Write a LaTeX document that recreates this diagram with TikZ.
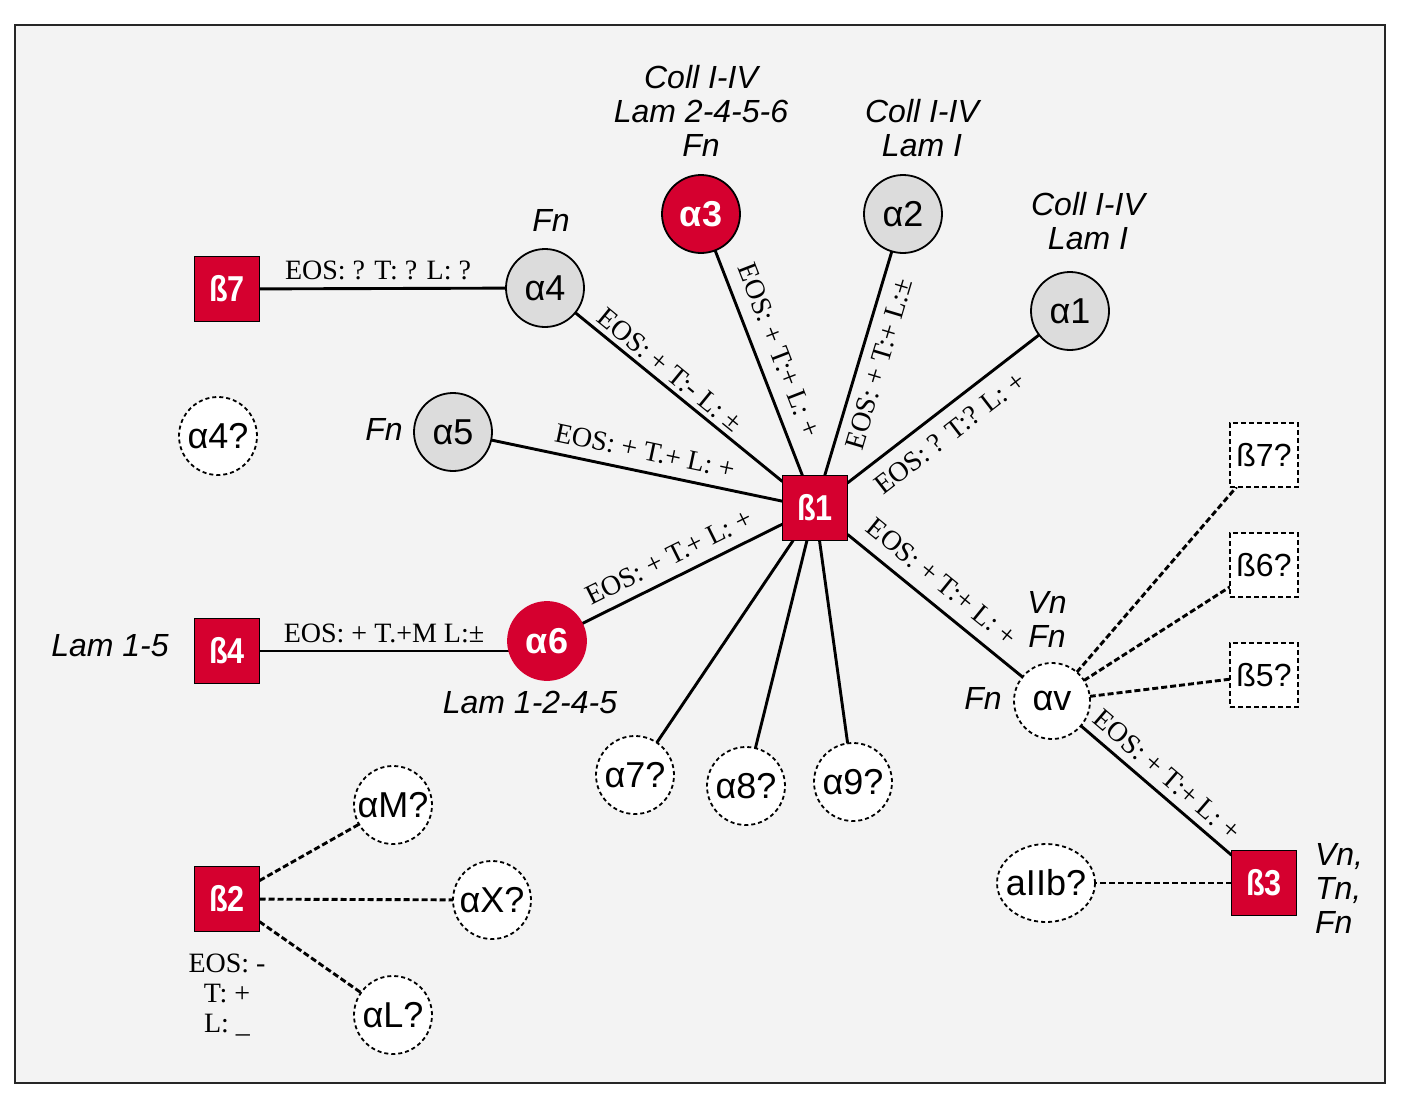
\documentclass[tikz,border=0pt]{standalone}
\usepackage{fontspec}
\usepackage{graphicx}
\setmainfont{Liberation Serif}
\setsansfont{Liberation Sans}
\usetikzlibrary{shapes.geometric,backgrounds}
\definecolor{nodered}{HTML}{D5002F}
\definecolor{nodegray}{HTML}{DCDCDC}
\definecolor{bgfill}{HTML}{F3F3F3}
\newcommand{\btxt}[1]{\scalebox{0.85}[1]{#1}}
\tikzset{
  every node/.style={inner sep=0pt, outer sep=0pt},
  acirc/.style={circle, draw=black, line width=1.8pt, fill=nodegray, minimum size=78pt,
    font=\sffamily\fontsize{36}{40}\selectfont},
  rcirc/.style={circle, draw=nodered, line width=1.8pt, fill=nodered, text=white, minimum size=78pt,
    font=\sffamily\bfseries\fontsize{36}{40}\selectfont},
  qcirc/.style={circle, draw=black, dash pattern=on 4pt off 3pt, line width=1.8pt, fill=white,
    minimum size=78pt, font=\sffamily\fontsize{36}{40}\selectfont},
  qell/.style={ellipse, draw=black, dash pattern=on 4pt off 3pt, line width=1.8pt, fill=white,
    minimum width=98pt, minimum height=78pt},
  bsq/.style={rectangle, draw=black, line width=1.8pt, fill=nodered, text=white, minimum size=65pt,
    font=\sffamily\bfseries\fontsize{36}{40}\selectfont},
  qsq/.style={rectangle, draw=black, dash pattern=on 5pt off 3pt, line width=1.8pt, fill=white,
    minimum width=68pt, minimum height=64pt, font=\sffamily\fontsize{32}{36}\selectfont},
  lnk/.style={line width=2.9pt},
  dlnk/.style={line width=2.9pt, dash pattern=on 6pt off 3pt},
  elab/.style={font=\rmfamily\fontsize{28}{30}\selectfont},
  ilab/.style={font=\sffamily\itshape\fontsize{32}{34}\selectfont, align=center},
}
\begin{document}
\begin{tikzpicture}[x=1pt,y=-1pt]
\useasboundingbox (0,0) rectangle (1405,1100);
\begin{scope}[on background layer]
  \fill[white] (0,0) rectangle (1405,1100);
  \draw[line width=1.8pt, draw=black!85, fill=bgfill] (15,25) rectangle (1385,1083);
\end{scope}

% beta nodes
\node[bsq] (b1) at (815,508) {\btxt{ß1}};
\node[bsq] (b7) at (227,289) {\btxt{ß7}};
\node[bsq] (b4) at (227,651) {\btxt{ß4}};
\node[bsq] (b2) at (227,899) {\btxt{ß2}};
\node[bsq] (b3) at (1264,883) {\btxt{ß3}};

% alpha nodes
\node[rcirc, draw=black] (a3) at (701,214) {α3};
\node[acirc] (a2) at (903,214) {α2};
\node[acirc] (a1) at (1070,311) {α1};
\node[acirc] (a4) at (545,288) {α4};
\node[acirc] (a5) at (453,432) {α5};
\node[rcirc] (a6) at (547,641) {α6};

% uncertain nodes
\node[qcirc] (a4q) at (218,436) {\makebox[0pt]{α4?}};
\node[qcirc] (a7) at (635,775) {\makebox[0pt]{α7?}};
\node[qcirc] (a8) at (746,786) {\makebox[0pt]{α8?}};
\node[qcirc] (a9) at (853,782) {\makebox[0pt]{α9?}};
\node[qcirc, minimum size=76pt] (av) at (1052,701) {\makebox[0pt]{αv}};
\node[qcirc] (aM) at (393,805) {\makebox[0pt]{αM?}};
\node[qcirc] (aX) at (492,900) {\makebox[0pt]{αX?}};
\node[qcirc] (aL) at (393,1015) {\makebox[0pt]{αL?}};
\node[qell] (aIIb) at (1046,883) {};
\node[font=\sffamily\fontsize{36}{40}\selectfont] (aIIbt) at (aIIb) {aIIb?};
\node[qsq] (b7q) at (1264,455) {ß7?};
\node[qsq] (b6q) at (1264,565) {ß6?};
\node[qsq] (b5q) at (1264,675) {ß5?};

% connectors
\begin{scope}[on background layer]
  \draw[lnk] (b7) -- (a4);
  \draw[lnk] (b1) -- (a4);
  \draw[lnk] (b1) -- (a3);
  \draw[lnk] (b1) -- (a2);
  \draw[lnk] (b1) -- (a1);
  \draw[lnk] (b1) -- (a5);
  \draw[lnk] (b1) -- (a6);
  \draw[lnk] (b4) -- (b4 -| a6);
  \draw[lnk] (b1) -- (a7);
  \draw[lnk] (b1) -- (a8);
  \draw[lnk] (b1) -- (a9);
  \draw[lnk] (b1) -- (av);
  \draw[lnk] (av) -- (b3);
  \draw[dlnk] (av) -- (b7q);
  \draw[dlnk] (av) -- (b6q);
  \draw[dlnk] (av) -- (b5q);
  \draw[dlnk] (b3) -- (aIIb);
  \draw[dlnk] (b2) -- (aM);
  \draw[dlnk] (b2) -- (aX);
  \draw[dlnk] (b2) -- (aL);
\end{scope}

% edge labels
\node[elab, anchor=base] (l74) at (378,279) {EOS: ? T: ? L: ?};
\node[elab, rotate=-39.3] (l14) at (670,370) {EOS: + T:- L: ±};
\node[elab, rotate=-68.8] (l13) at (779,350) {EOS: + T:+ L: +};
\node[elab, rotate=73.3] (l12) at (879,364) {EOS: + T:+ L:±};
\node[elab, rotate=37.7] (l11) at (950,433) {EOS: ? T:? L: +};
\node[elab, rotate=-11.9] (l15) at (645,451) {EOS: + T.+ L: +};
\node[elab, rotate=26.4] (l16) at (669,557) {EOS: + T.+ L: +};
\node[elab, anchor=base] (l46) at (384,642) {EOS: + T.+M L:±};
\node[elab, rotate=-39.1] (l1v) at (942,582) {EOS: + T:+ L: +};
\node[elab, rotate=-40.7] (lv3) at (1167,775) {EOS: + T:+ L: +};
\node[elab, align=center] (l2) at (227,995) {EOS: -\\T: +\\L: \_};

% ligand labels
\node[ilab] (t3) at (701,111) {Coll I-IV\\Lam 2-4-5-6\\Fn};
\node[ilab] (t2) at (922,128) {Coll I-IV\\Lam I};
\node[ilab] (t1) at (1088,221) {Coll I-IV\\Lam I};
\node[ilab] (t4) at (551,220) {Fn};
\node[ilab] (t5) at (384,429) {Fn};
\node[ilab] (t6) at (530,702) {Lam 1-2-4-5};
\node[ilab] (tb4) at (110,646) {Lam 1-5};
\node[ilab] (tvf) at (983,698) {Fn};
\node[ilab] (tvn) at (1047,619) {Vn\\Fn};
\node[ilab, align=left, anchor=west] (tb3) at (1315,888) {Vn,\\Tn,\\Fn};
\end{tikzpicture}
\end{document}
